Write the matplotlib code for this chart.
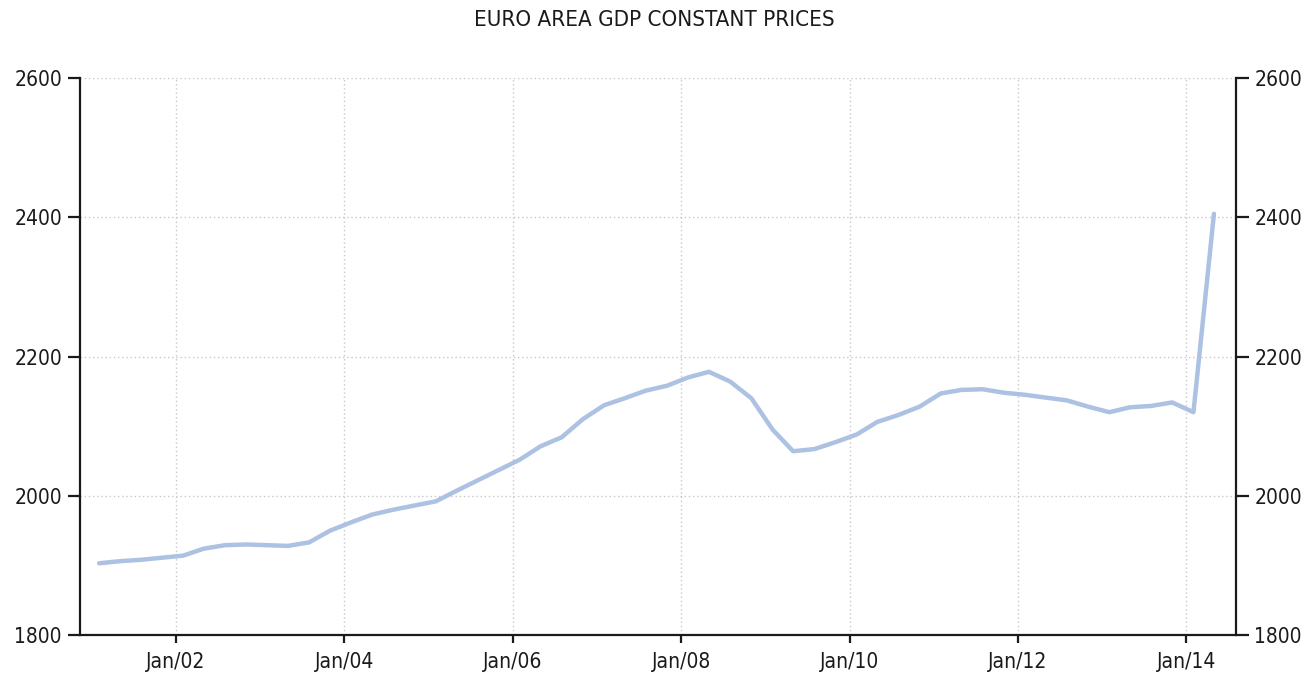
import matplotlib
matplotlib.use('Agg')
import matplotlib.pyplot as plt
import matplotlib.dates as mdates
import pandas as pd

# === Data (quarterly) ===
dates = pd.date_range("2001-02-01", periods=54, freq="3MS")
gdp = [1903, 1906, 1908, 1911,
       1914, 1924, 1929, 1930,
       1929, 1928, 1933, 1950,
       1962, 1973, 1980, 1986,
       1992, 2007, 2022, 2037,
       2052, 2071, 2084, 2110,
       2130, 2140, 2151, 2158,
       2170, 2178, 2164, 2140,
       2095, 2064, 2067, 2077,
       2088, 2106, 2116, 2128,
       2147, 2152, 2153, 2148,
       2145, 2141, 2137, 2128,
       2120, 2127, 2129, 2134,
       2120, 2405]
y_ticks = [1800, 2000, 2200, 2400, 2600]
title = "EURO AREA GDP CONSTANT PRICES"

# === Plot ===
plt.rcParams['font.family'] = ['DejaVu Sans']
fig = plt.figure(figsize=(13.09, 6.79), dpi=100)
ax = fig.add_axes([0.0611, 0.0648, 0.8832, 0.8203])

ax.plot(dates, gdp, color="#adc1e2", linewidth=3.2,
        solid_capstyle="round", solid_joinstyle="round")

ax.set_ylim(1800, 2600)
ax.set_yticks(y_ticks)
ax.set_xlim(pd.Timestamp("2000-11-10"), pd.Timestamp("2014-08-05"))
ax.xaxis.set_major_locator(mdates.YearLocator(2, month=1, day=1))
ax.xaxis.set_major_formatter(mdates.DateFormatter("Jan/%y"))

ax.grid(True, color="#c8c8c8", linestyle=(0, (1, 2)), linewidth=1)
ax.spines["top"].set_visible(False)
for s in ["left", "right", "bottom"]:
    ax.spines[s].set_linewidth(1.6)
    ax.spines[s].set_color("#1a1a1a")

ax.tick_params(axis="y", which="major", direction="out", length=9, width=1.6,
               left=True, right=True, labelleft=True, labelright=True,
               labelsize=15, pad=4, colors="#1a1a1a")
ax.tick_params(axis="x", which="major", direction="out", length=6, width=1.6,
               labelsize=15, pad=6, colors="#1a1a1a")
for lbl in ax.get_xticklabels() + ax.get_yticklabels():
    lbl.set_fontstretch("condensed")

fig.text(0.5, 0.97, title, ha="center", va="center", fontsize=16,
         color="#1a1a1a", fontstretch="condensed")

plt.savefig("out.png", dpi=100)
